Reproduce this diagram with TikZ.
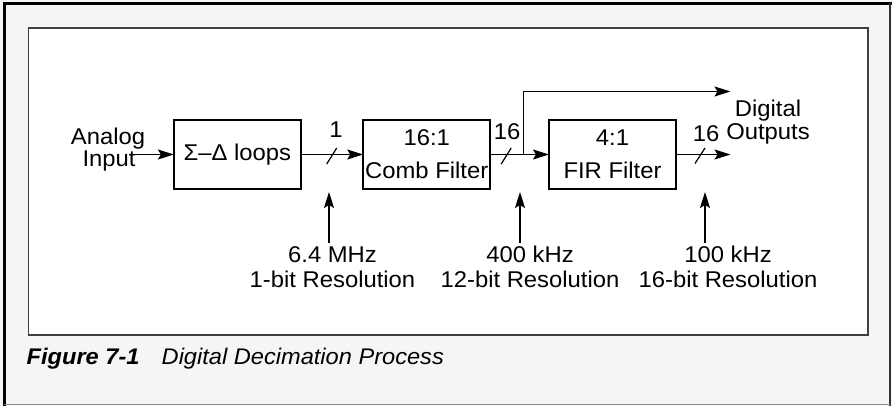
\documentclass[tikz,border=0pt]{standalone}
\usepackage{fontspec}
\setmainfont{Liberation Sans}[FakeStretch=1.045]
\usetikzlibrary{arrows.meta}
\definecolor{bgc}{HTML}{F5F5F5}
\begin{document}
\begin{tikzpicture}[x=1pt,y=-1pt,
  every node/.style={inner sep=0pt, outer sep=0pt},
  txt/.style={font=\fontsize{22.8}{25}\selectfont, anchor=base},
  blk/.style={draw, line width=1.5pt, minimum width=127pt, minimum height=69pt, align=center, font=\fontsize{22.8}{33}\selectfont},
  wire/.style={line width=1.4pt},
  arr/.style={wire, -{Stealth[length=16pt,width=10pt,inset=3pt]}},
  slashmark/.style={line width=1.2pt},
  captxt/.style={anchor=base west, font=\fontsize{22.6}{25}\selectfont\itshape}
]
\useasboundingbox (0,0) rectangle (892,406);
% frame and panel
\fill[bgc] (0,0) rectangle (892,406);
\fill[white] (28.3,28.3) rectangle (868,335);
\draw[black!75, line width=1.6pt] (28.3,28.3) rectangle (868,335);
\draw[line width=3pt] (4.3,406) -- (4.3,3.3) -- (892,3.3);
\draw[black!80, line width=2pt] (890.3,3.3) -- (890.3,406);
\draw[black!45, line width=1.2pt] (4.3,404.6) -- (890.3,404.6);

% blocks
\node[blk] (s) at (237.4,154.5) {Σ–Δ loops};
\node[blk] (c) at (426.7,154.5) {16:1\\Comb Filter};
\node[blk] (f) at (612.5,154.5) {4:1\\FIR Filter};

% input
\node[txt] (ain1) at (108,145) {Analog};
\node[txt] (ain2) at (109,166.5) {Input};
\coordinate (ainp) at (131.5,154.5);
\draw[arr] (ainp) -- (s.west);

% main chain
\draw[arr] (s.east) -- (c.west);
\draw[arr] (c.east) -- (f.west);
\coordinate (br) at (523.3,154.5);
\coordinate (up) at (523.3,91.5);
\coordinate (out1) at (730.5,91.5);
\draw[arr] (br) -- (up) -- (out1);
\coordinate (out2) at (730.5,154.5);
\draw[arr] (f.east) -- (out2);

% bus slashes
\coordinate (sl1a) at (326.7,164);  \coordinate (sl1b) at (336.7,148);
\coordinate (sl2a) at (501.2,164);  \coordinate (sl2b) at (511.2,148);
\coordinate (sl3a) at (695,163.5);  \coordinate (sl3b) at (705,148);
\draw[slashmark] (sl1a) -- (sl1b);
\draw[slashmark] (sl2a) -- (sl2b);
\draw[slashmark] (sl3a) -- (sl3b);

% bus widths
\node[txt] (n1) at (336,138) {1};
\node[txt] (n2) at (507,140) {16};
\node[txt] (n3) at (706,141.7) {16};

% outputs label
\node[txt] (dig1) at (768,116.7) {Digital};
\node[txt] (dig2) at (768,139.3) {Outputs};

% rate labels
\node[txt] (r1a) at (332.5,262.3) {6.4 MHz};
\node[txt] (r1b) at (332.5,287.3) {1-bit Resolution};
\node[txt] (r2a) at (530,262.3) {400 kHz};
\node[txt] (r2b) at (530,287.3) {12-bit Resolution};
\node[txt] (r3a) at (728,262.3) {100 kHz};
\node[txt] (r3b) at (728,287.3) {16-bit Resolution};

\coordinate (a1b) at (329,243);   \coordinate (a1t) at (329,192);
\coordinate (a2b) at (520,243);   \coordinate (a2t) at (520,192);
\coordinate (a3b) at (705,243);   \coordinate (a3t) at (705,192);
\draw[arr] (a1b) -- (a1t);
\draw[arr] (a2b) -- (a2t);
\draw[arr] (a3b) -- (a3t);

% caption
\node[captxt, font=\fontsize{22.6}{25}\selectfont\bfseries\itshape] (fig) at (26.7,364) {Figure 7-1};
\node[captxt] (ttl) at (161.7,364) {Digital Decimation Process};
\end{tikzpicture}
\end{document}
